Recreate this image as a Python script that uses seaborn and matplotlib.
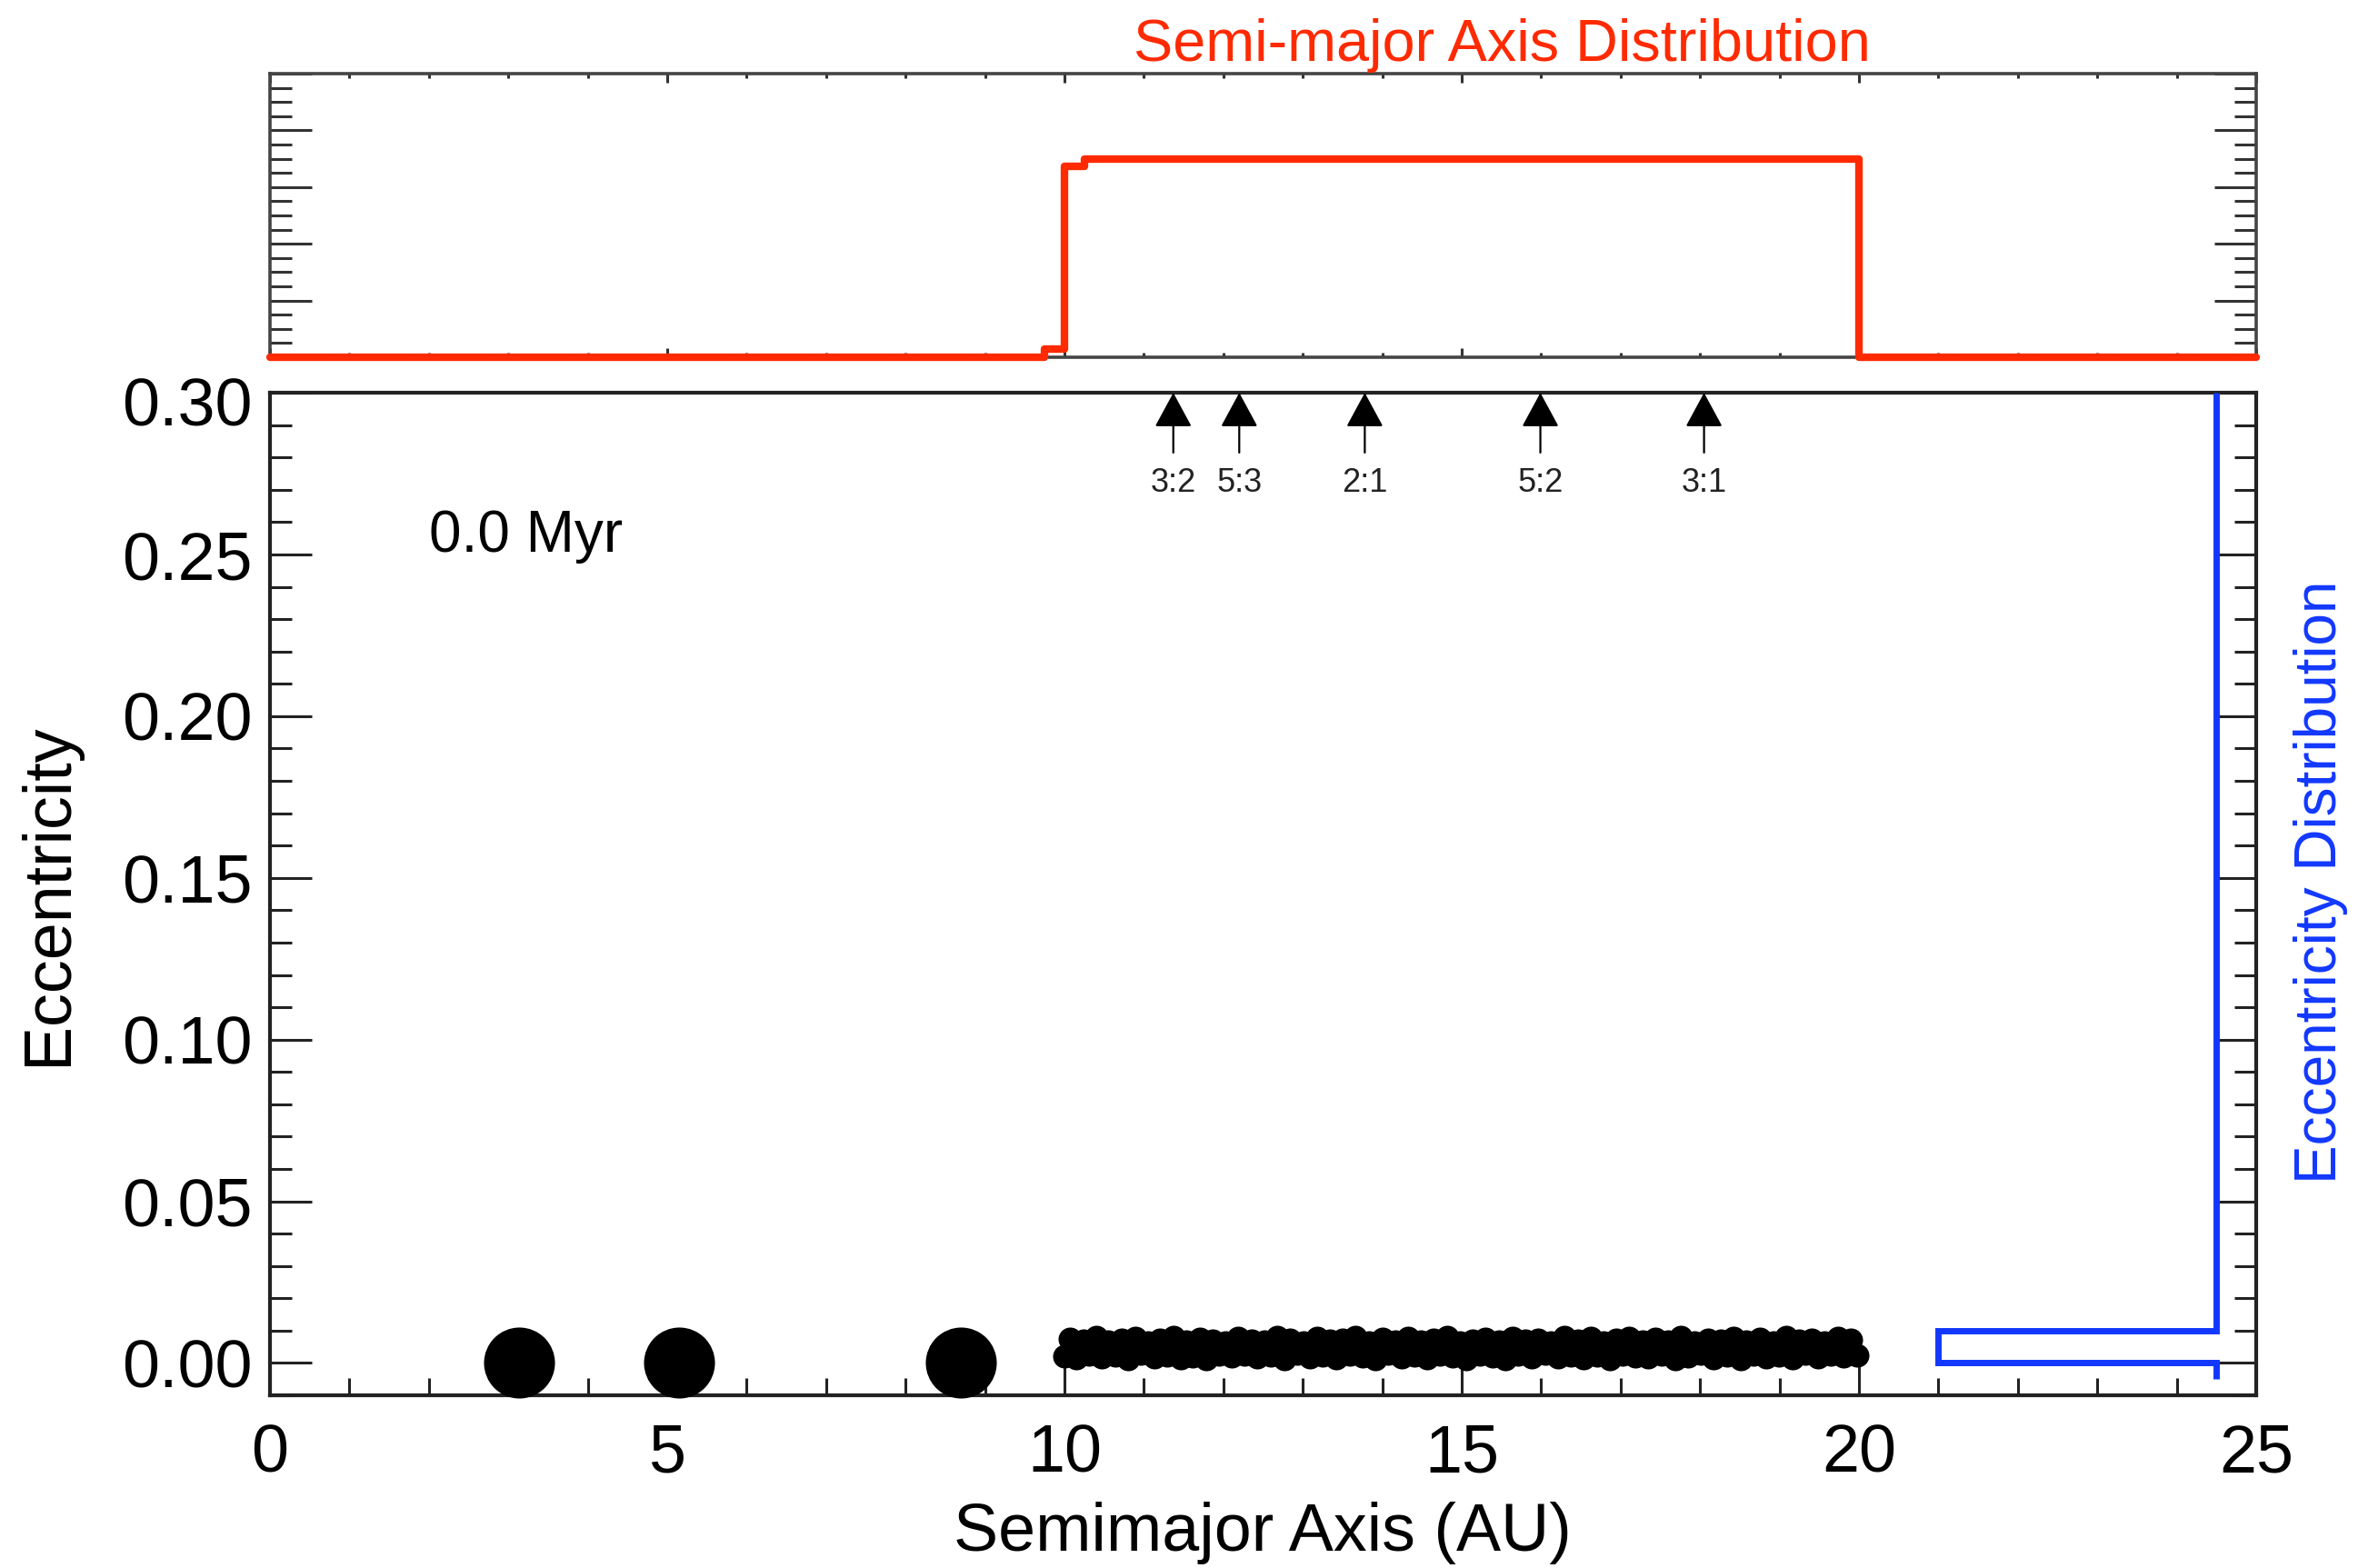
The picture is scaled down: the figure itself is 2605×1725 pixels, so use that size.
import numpy as np
import matplotlib
matplotlib.use("Agg")
import matplotlib.pyplot as plt
from matplotlib.ticker import MultipleLocator, FuncFormatter
import seaborn as sns

# ---- data ----
# semi-major axis histogram (top panel), step edges in AU and counts
a_edges = [0.0, 9.75, 10.0, 10.25, 20.0, 25.0]
a_counts = [0.0, 3.0, 67.4, 70.0, 0.0]

# eccentricity histogram (drawn sideways on the right)
e_edges = [-0.005, 0.0, 0.01, 0.30]
e_counts = [0, 1000, 0]

# planets
planet_a = [3.13, 5.15, 8.69]
planet_e = [0.0, 0.0, 0.0]

# planetesimals between 10 and 20 AU
dust_a = [10.00, 10.07, 10.15, 10.24, 10.31, 10.40, 10.47, 10.55, 10.64, 10.72,
          10.80, 10.89, 10.96, 11.05, 11.13, 11.20, 11.29, 11.37, 11.46, 11.53,
          11.61, 11.70, 11.78, 11.86, 11.95, 12.02, 12.11, 12.19, 12.27, 12.36,
          12.43, 12.52, 12.60, 12.68, 12.77, 12.84, 12.93, 13.01, 13.09, 13.18,
          13.25, 13.34, 13.42, 13.50, 13.59, 13.66, 13.75, 13.83, 13.91, 14.00,
          14.07, 14.16, 14.24, 14.32, 14.41, 14.48, 14.57, 14.65, 14.73, 14.82,
          14.89, 14.98, 15.06, 15.14, 15.23, 15.30, 15.39, 15.47, 15.55, 15.64,
          15.71, 15.80, 15.88, 15.96, 16.05, 16.12, 16.21, 16.29, 16.37, 16.46,
          16.53, 16.62, 16.70, 16.78, 16.87, 16.94, 17.03, 17.11, 17.19, 17.28,
          17.35, 17.44, 17.52, 17.60, 17.69, 17.76, 17.85, 17.93, 18.01, 18.10,
          18.17, 18.26, 18.34, 18.42, 18.51, 18.58, 18.67, 18.75, 18.83, 18.92,
          18.99, 19.08, 19.16, 19.24, 19.33, 19.40, 19.49, 19.57, 19.65, 19.74,
          19.81, 19.90, 19.98]
dust_e = [0.0021, 0.0074, 0.0015, 0.0068, 0.0027, 0.0079, 0.0018, 0.0065, 0.0024, 0.0071,
          0.0013, 0.0077, 0.0029, 0.0063, 0.0019, 0.0072, 0.0025, 0.0080, 0.0016, 0.0067,
          0.0022, 0.0075, 0.0014, 0.0069, 0.0028, 0.0062, 0.0020, 0.0078, 0.0026, 0.0070,
          0.0017, 0.0066, 0.0023, 0.0079, 0.0012, 0.0073, 0.0030, 0.0064, 0.0019, 0.0076,
          0.0025, 0.0068, 0.0015, 0.0071, 0.0027, 0.0080, 0.0021, 0.0063, 0.0013, 0.0074,
          0.0029, 0.0067, 0.0018, 0.0077, 0.0024, 0.0065, 0.0016, 0.0072, 0.0028, 0.0079,
          0.0020, 0.0062, 0.0014, 0.0070, 0.0026, 0.0075, 0.0022, 0.0066, 0.0012, 0.0078,
          0.0027, 0.0069, 0.0017, 0.0073, 0.0030, 0.0064, 0.0019, 0.0080, 0.0023, 0.0068,
          0.0015, 0.0076, 0.0025, 0.0063, 0.0013, 0.0071, 0.0028, 0.0077, 0.0021, 0.0065,
          0.0018, 0.0074, 0.0026, 0.0067, 0.0014, 0.0079, 0.0022, 0.0062, 0.0029, 0.0072,
          0.0016, 0.0070, 0.0024, 0.0078, 0.0012, 0.0066, 0.0027, 0.0075, 0.0019, 0.0063,
          0.0023, 0.0080, 0.0015, 0.0069, 0.0030, 0.0073, 0.0017, 0.0064, 0.0026, 0.0077,
          0.0020, 0.0071, 0.0024]

# mean-motion resonances with the outer planet
res_labels = ["3:2", "5:3", "2:1", "5:2", "3:1"]
res_a = [11.37, 12.20, 13.78, 15.99, 18.05]

time_label = "0.0 Myr"

RED = "#ff2a00"
BLUE = "#1238ff"

sns.set_style("white")
plt.rcParams["font.family"] = ["Liberation Sans", "DejaVu Sans"]
plt.rcParams["text.color"] = "black"
plt.rcParams["xtick.labelcolor"] = "black"
plt.rcParams["ytick.labelcolor"] = "black"

fig = plt.figure(figsize=(13.025, 8.625), dpi=200)
ax_top = fig.add_axes([0.1140, 0.7722, 0.8388, 0.1809])
ax = fig.add_axes([0.1140, 0.1101, 0.8388, 0.6394])

# --- top panel: semi-major axis distribution ---
a_edges_arr = np.array(a_edges)
a_mid = 0.5 * (a_edges_arr[:-1] + a_edges_arr[1:])
sns.histplot(x=a_mid, weights=a_counts, bins=a_edges, element="step", fill=False,
             color=RED, linewidth=3.0, ax=ax_top, clip_on=False, zorder=3)
ax_top.set_xlim(0, 25)
ax_top.set_ylim(0, 100)
ax_top.set_xlabel("")
ax_top.set_ylabel("")
ax_top.xaxis.set_major_locator(MultipleLocator(5))
ax_top.xaxis.set_minor_locator(MultipleLocator(1))
ax_top.yaxis.set_major_locator(MultipleLocator(20))
ax_top.yaxis.set_minor_locator(MultipleLocator(5))
ax_top.tick_params(which="both", direction="in", top=True, right=True, bottom=True, left=True,
                   labelbottom=False, labelleft=False, color="#333333", width=1.1)
ax_top.tick_params(axis="y", which="major", length=16.5)
ax_top.tick_params(axis="y", which="minor", length=8.6)
ax_top.tick_params(axis="x", which="major", length=3.6)
ax_top.tick_params(axis="x", which="minor", length=1.8)
for sp in ax_top.spines.values():
    sp.set_linewidth(1.3)
    sp.set_color("#444444")

# --- main panel: eccentricity vs semi-major axis ---
sns.scatterplot(x=dust_a, y=dust_e, s=88, color="black", linewidth=0, ax=ax, zorder=3)
sns.scatterplot(x=planet_a, y=planet_e, s=790, color="black", linewidth=0, ax=ax,
                zorder=4, clip_on=False)

ax.set_xlim(0, 25)
ax.set_ylim(-0.01, 0.30)
ax.xaxis.set_major_locator(MultipleLocator(5))
ax.xaxis.set_minor_locator(MultipleLocator(1))
ax.yaxis.set_major_locator(MultipleLocator(0.05))
ax.yaxis.set_minor_locator(MultipleLocator(0.01))
# the top label (0.30) is drawn separately, nudged down like in the original
ax.yaxis.set_major_formatter(FuncFormatter(lambda v, p: "" if v > 0.29 else "%.2f" % v))
ax.tick_params(which="both", direction="in", top=True, right=True, bottom=True, left=True,
               labelsize=26.5, width=1.1, color="#222222", labelcolor="black")
ax.tick_params(axis="x", which="major", length=13, pad=11)
ax.tick_params(axis="x", which="minor", length=7)
ax.tick_params(axis="y", which="major", length=16.5, pad=7)
ax.tick_params(axis="y", which="minor", length=8.6)
ax.set_xlabel("")
ax.set_ylabel("")
for sp in ax.spines.values():
    sp.set_linewidth(1.5)
    sp.set_color("#222222")

ax.annotate("0.30", xy=(0, 0.30), xycoords=("axes fraction", "data"),
            xytext=(-7, -6), textcoords="offset points", ha="right", va="center",
            fontsize=26.5, color="black")

# resonance markers
for lab, a in zip(res_labels, res_a):
    ax.annotate("", xy=(a, 0.30), xytext=(a, 0.2815),
                arrowprops=dict(arrowstyle="-|>,head_length=1.2,head_width=0.65",
                                color="black", lw=0.8, shrinkA=0, shrinkB=0,
                                mutation_scale=10))
    ax.text(a, 0.2721, lab, ha="center", va="center", fontsize=13, color="#222222")

ax.text(2.0, 0.2556, time_label, ha="left", va="center", fontsize=23)

# eccentricity histogram, sideways, baseline at 24.5 AU, 1000 counts span 3.5 AU
ax_e = ax.twiny()
base_au, span_au = 24.5, 3.5
per = span_au / 25.0 / max(e_counts)
ax_e.set_xlim((base_au / 25.0) / per, -(1 - base_au / 25.0) / per)
ax_e.stairs(e_counts, e_edges, orientation="horizontal", baseline=None,
            color=BLUE, linewidth=2.5)
ax_e.set_xticks([])
for sp in ax_e.spines.values():
    sp.set_visible(False)

# labels
fig.text(0.533, 0.0226, "Semimajor Axis (AU)", ha="center", va="center", fontsize=26.5)
fig.text(0.0204, 0.4296, "Eccentricity", ha="center", va="center", fontsize=26.5,
         rotation=90)
fig.text(0.6345, 0.971, "Semi-major Axis Distribution", ha="center", va="center",
         fontsize=23.3, color=RED)
fig.text(0.980, 0.4377, "Eccentricity Distribution", ha="center", va="center",
         fontsize=23, color=BLUE, rotation=90)

fig.savefig("out.png", dpi=200)
